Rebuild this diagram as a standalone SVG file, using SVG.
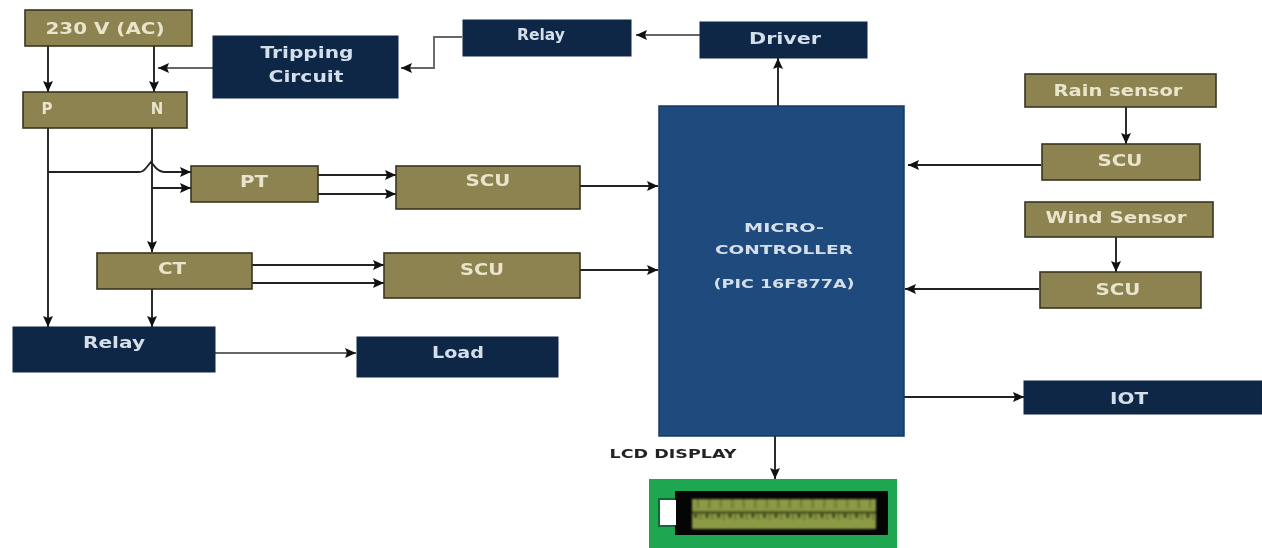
<svg xmlns="http://www.w3.org/2000/svg" width="1262" height="548" viewBox="0 0 1262 548">
<style>
.o{fill:#8d8350;stroke:#3a3520;stroke-width:1.6}
.n{fill:#0f2747;stroke:#0f2747;stroke-width:1}
.t{font-family:"DejaVu Sans","Liberation Sans",sans-serif;font-weight:700;font-size:15px;text-anchor:middle;filter:url(#b)}
.l{fill:#e9e5cd}.w{fill:#d5dfea}
.c{fill:none;stroke:#222;stroke-width:1.9}
.g{stroke:#666}
</style>
<defs>
<marker id="a" markerWidth="13" markerHeight="12" refX="11" refY="6" orient="auto" markerUnits="userSpaceOnUse"><path d="M0 1 11 6 0 11 2 6z" fill="#111"/></marker>
<filter id="b" x="-10%" y="-30%" width="120%" height="160%"><feGaussianBlur stdDeviation="0.55"/></filter>
<filter id="s" x="-5%" y="-5%" width="110%" height="110%"><feGaussianBlur stdDeviation="0.8"/></filter>
<pattern id="cells" x="692" y="499" width="11.5" height="30" patternUnits="userSpaceOnUse"><rect width="11.500" height="30" fill="#8b9a45"/><rect x="5" width="1.500" height="9" fill="#5f6c28"/><rect y="12" width="11.500" height="3" fill="#4a5220"/><rect x="2" y="15" width="3" height="4" fill="#3a4018"/><rect x="8" y="15" width="1.500" height="6" fill="#5f6c28"/></pattern>
</defs>
<rect width="1262" height="548" fill="#fff"/>
<g id="connectors" class="c">
<path d="M48 46V92" marker-end="url(#a)"/>
<path d="M154 46V92" marker-end="url(#a)"/>
<path d="M213 68H158" class="g" marker-end="url(#a)"/>
<path d="M462 37H434V68H401" class="g" marker-end="url(#a)"/>
<path d="M700 35H636" class="g" marker-end="url(#a)"/>
<path d="M778 106V58" marker-end="url(#a)"/>
<path d="M48 128V327" marker-end="url(#a)"/>
<path d="M152 128V252" marker-end="url(#a)"/>
<path d="M48 172H139Q143 172 146 168L151 162L156 168Q160 172 165 172H191" marker-end="url(#a)"/>
<path d="M152 188H191" marker-end="url(#a)"/>
<path d="M318 175H396" marker-end="url(#a)"/>
<path d="M318 194H396" marker-end="url(#a)"/>
<path d="M580 186H658" marker-end="url(#a)"/>
<path d="M252 265H384" marker-end="url(#a)"/>
<path d="M252 283H384" marker-end="url(#a)"/>
<path d="M580 270H658" marker-end="url(#a)"/>
<path d="M152 289V327" marker-end="url(#a)"/>
<path d="M215 353H356" class="g" marker-end="url(#a)"/>
<path d="M1126 107V144" marker-end="url(#a)"/>
<path d="M1116 237V272" marker-end="url(#a)"/>
<path d="M1041 165H908" marker-end="url(#a)"/>
<path d="M1039 289H905" marker-end="url(#a)"/>
<path d="M904 397H1024" marker-end="url(#a)"/>
<path d="M775 436V479" marker-end="url(#a)"/>
</g>
<g id="ac"><rect class="o" x="25" y="10" width="167" height="36"/><text class="t l" x="105" y="34" textLength="119" lengthAdjust="spacingAndGlyphs" style="font-size:16px">230 V (AC)</text></g>
<g id="pn"><rect class="o" x="23" y="92" width="164" height="36"/><text class="t l" x="47" y="114">P</text><text class="t l" x="157" y="114">N</text></g>
<g id="tripping"><rect class="n" x="213" y="36" width="185" height="62"/><text class="t w" x="307" y="58" textLength="93" lengthAdjust="spacingAndGlyphs">Tripping</text><text class="t w" x="306" y="82" textLength="75" lengthAdjust="spacingAndGlyphs">Circuit</text></g>
<g id="relay-top"><rect class="n" x="463" y="20" width="168" height="36"/><text class="t w" x="541" y="40" textLength="48" lengthAdjust="spacingAndGlyphs">Relay</text></g>
<g id="driver"><rect class="n" x="700" y="22" width="167" height="36"/><text class="t w" x="785" y="44" textLength="72" lengthAdjust="spacingAndGlyphs">Driver</text></g>
<g id="pt"><rect class="o" x="191" y="166" width="127" height="36"/><text class="t l" x="254" y="187" textLength="28" lengthAdjust="spacingAndGlyphs">PT</text></g>
<g id="scu-1"><rect class="o" x="396" y="166" width="184" height="43"/><text class="t l" x="488" y="186" textLength="45" lengthAdjust="spacingAndGlyphs">SCU</text></g>
<g id="ct"><rect class="o" x="97" y="253" width="155" height="36"/><text class="t l" x="172" y="274" textLength="28" lengthAdjust="spacingAndGlyphs">CT</text></g>
<g id="scu-2"><rect class="o" x="384" y="253" width="196" height="45"/><text class="t l" x="482" y="275" textLength="44" lengthAdjust="spacingAndGlyphs">SCU</text></g>
<g id="relay"><rect class="n" x="13" y="327" width="202" height="45"/><text class="t w" x="114" y="348" textLength="62" lengthAdjust="spacingAndGlyphs">Relay</text></g>
<g id="load"><rect class="n" x="357" y="337" width="201" height="40"/><text class="t w" x="458" y="358" textLength="52" lengthAdjust="spacingAndGlyphs">Load</text></g>
<g id="mcu"><rect x="659" y="106" width="245" height="330" fill="#1f4a7e" stroke="#163a66" stroke-width="1.5"/>
<text class="t w" x="784" y="232" textLength="80" lengthAdjust="spacingAndGlyphs" style="font-size:13px">MICRO-</text><text class="t w" x="784" y="254" textLength="138" lengthAdjust="spacingAndGlyphs" style="font-size:13px">CONTROLLER</text><text class="t w" x="784" y="288" textLength="141" lengthAdjust="spacingAndGlyphs" style="font-size:13px">(PIC 16F877A)</text></g>
<g id="rain"><rect class="o" x="1025" y="74" width="191" height="33"/><text class="t l" x="1118" y="96" textLength="129" lengthAdjust="spacingAndGlyphs">Rain sensor</text></g>
<g id="scu-3"><rect class="o" x="1042" y="144" width="158" height="36"/><text class="t l" x="1120" y="166" textLength="45" lengthAdjust="spacingAndGlyphs">SCU</text></g>
<g id="wind"><rect class="o" x="1025" y="202" width="188" height="35"/><text class="t l" x="1116" y="223" textLength="141" lengthAdjust="spacingAndGlyphs">Wind Sensor</text></g>
<g id="scu-4"><rect class="o" x="1040" y="272" width="161" height="36"/><text class="t l" x="1118" y="295" textLength="45" lengthAdjust="spacingAndGlyphs">SCU</text></g>
<g id="iot"><rect class="n" x="1024" y="381" width="238" height="33"/><text class="t w" x="1129" y="404" textLength="38" lengthAdjust="spacingAndGlyphs">IOT</text></g>
<g id="lcd">
<text class="t" x="673" y="458" textLength="127" lengthAdjust="spacingAndGlyphs" style="font-size:13px" fill="#222">LCD DISPLAY</text>
<rect x="649" y="479" width="248" height="69" fill="#1fa650"/>
<rect x="658" y="498" width="18" height="29" fill="#0d6a30"/>
<rect x="675" y="491" width="213" height="44" fill="#050505"/>
<rect x="660" y="500" width="16" height="25" fill="#fff"/>
<rect x="692" y="499" width="184" height="30" fill="url(#cells)" filter="url(#s)"/>
</g>
</svg>
